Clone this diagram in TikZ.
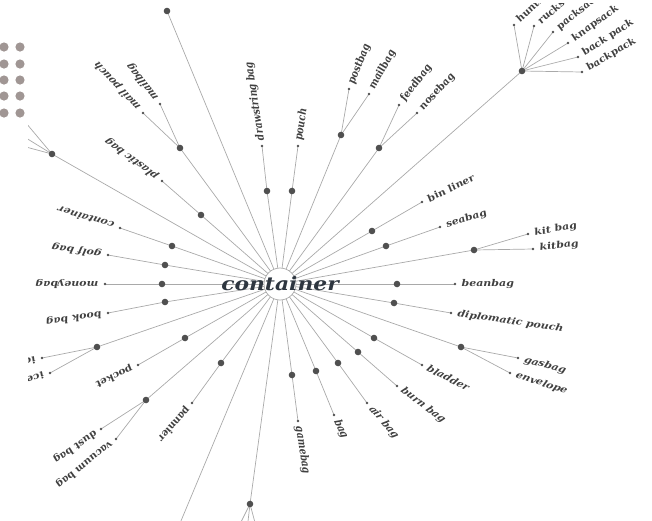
\documentclass[tikz,border=0pt]{standalone}
\usepackage{fontspec}
\usetikzlibrary{calc}
\newfontfamily\lblfont{DejaVu Serif}
\definecolor{edgec}{HTML}{A9A9A9}
\definecolor{dotc}{HTML}{505050}
\definecolor{labc}{HTML}{404040}
\definecolor{ctrc}{HTML}{2E3640}
\definecolor{gridc}{RGB}{160,150,148}
\tikzset{
  edge/.style={draw=edgec, line width=0.7pt},
  lbl/.style={anchor=west, inner xsep=5.5pt, inner ysep=0pt,
    font=\lblfont\bfseries\itshape\fontsize{9.3}{10}\selectfont, text=labc},
  ctr/.style={font=\lblfont\bfseries\itshape\fontsize{18.5}{20}\selectfont, text=ctrc, inner sep=0pt, xscale=1.18},
  hub/.style={circle, draw=edgec, fill=white, line width=0.7pt, minimum size=32pt, inner sep=0pt},
}
\newcommand\lbl[2]{%
  \path (#1); \pgfgetlastxy{\lx}{\ly}%
  \pgfmathsetmacro\ang{atan2(\ly+284,\lx-280)}%
  \pgfmathsetmacro\ma{1.18*cos(\ang)}%
  \pgfmathsetmacro\mb{sin(\ang)}%
  \pgfmathsetmacro\mc{-1.18*sin(\ang)}%
  \pgfmathsetmacro\md{cos(\ang)}%
  \node[lbl, cm={\ma,\mb,\mc,\md,(0,0)}] (t#1) at (#1) {#2};}
\begin{document}
\begin{tikzpicture}[x=1pt,y=-1pt]
\useasboundingbox (0,0) rectangle (652,520);
\begin{scope}
\clip (28,3) rectangle (652,520);
\coordinate (c) at (280,284);
% internal nodes
\coordinate (nA) at (167,11);
\coordinate (nB) at (180,148);
\coordinate (nC) at (201,215);
\coordinate (nD) at (172,246);
\coordinate (nE) at (165,265);
\coordinate (nF) at (162,284);
\coordinate (nG) at (165,302);
\coordinate (nH) at (97,347);
\coordinate (nI) at (185,338);
\coordinate (nJ) at (146,400);
\coordinate (nK) at (221,363);
\coordinate (nM) at (250,504);
\coordinate (nN) at (292,375);
\coordinate (nO) at (316,371);
\coordinate (nP) at (338,363);
\coordinate (nQ) at (358,352);
\coordinate (nR) at (374,338);
\coordinate (nS) at (461,347);
\coordinate (nT) at (394,303);
\coordinate (nU) at (397,284);
\coordinate (nV) at (474,250);
\coordinate (nW) at (386,246);
\coordinate (nX) at (372,231);
\coordinate (nY) at (522,71);
\coordinate (nZ) at (379,148);
\coordinate (nAA) at (341,135);
\coordinate (nAB) at (292,191);
\coordinate (nAC) at (267,191);
\coordinate (nAD) at (52,154);
% free ends leaving the canvas
\coordinate (oL) at (173,540);
\coordinate (o1) at (237,530);
\coordinate (o2) at (247,530);
\coordinate (o3) at (257,530);
\coordinate (o4) at (0,92);
\coordinate (o5) at (0,122);
\coordinate (o6) at (0,140);
% leaves
\coordinate (lA) at (143,113);
\coordinate (lB) at (160,104);
\coordinate (lC) at (162,181);
\coordinate (lD) at (120,228);
\coordinate (lE) at (108,255);
\coordinate (lF) at (105,284);
\coordinate (lG) at (108,313);
\coordinate (lH) at (42,358);
\coordinate (lI) at (50,373);
\coordinate (lJ) at (138,365);
\coordinate (lK) at (101,429);
\coordinate (lL) at (116,439);
\coordinate (lM) at (192,403);
\coordinate (lN) at (298,421);
\coordinate (lO) at (334,415);
\coordinate (lP) at (367,403);
\coordinate (lQ) at (397,386);
\coordinate (lR) at (422,365);
\coordinate (lS) at (518,358);
\coordinate (lT) at (510,373);
\coordinate (lU) at (451,313);
\coordinate (lV) at (455,284);
\coordinate (lW) at (528,234);
\coordinate (lX) at (533,249);
\coordinate (lY) at (440,227);
\coordinate (lZ) at (422,202);
\coordinate (la) at (514,25);
\coordinate (lb) at (534,26);
\coordinate (lc) at (553,32);
\coordinate (ld) at (568,43);
\coordinate (le) at (578,57);
\coordinate (lf) at (582,72);
\coordinate (lg) at (399,105);
\coordinate (lh) at (417,113);
\coordinate (li) at (349,89);
\coordinate (lj) at (369,94);
\coordinate (lk) at (298,146);
\coordinate (ll) at (262,146);
% edges
\foreach \n in {nA,nB,nC,nD,nE,nF,nG,nH,nI,nJ,nK,oL,nM,nN,nO,nP,nQ,nR,nS,nT,nU,nV,nW,nX,nY,nZ,nAA,nAB,nAC,nAD}
  \draw[edge] (c) -- (\n);
\foreach \a/\b in {nB/lA,nB/lB,nC/lC,nD/lD,nE/lE,nF/lF,nG/lG,nH/lH,nH/lI,nI/lJ,nJ/lK,nJ/lL,nK/lM,
  nM/o1,nM/o2,nM/o3,nN/lN,nO/lO,nP/lP,nQ/lQ,nR/lR,nS/lS,nS/lT,nT/lU,nU/lV,nV/lW,nV/lX,nW/lY,nX/lZ,
  nY/la,nY/lb,nY/lc,nY/ld,nY/le,nY/lf,nZ/lg,nZ/lh,nAA/li,nAA/lj,nAB/lk,nAC/ll,nAD/o4,nAD/o5,nAD/o6}
  \draw[edge] (\a) -- (\b);
% dots
\foreach \n in {nA,nB,nC,nD,nE,nF,nG,nH,nI,nJ,nK,nM,nN,nO,nP,nQ,nR,nS,nT,nU,nV,nW,nX,nY,nZ,nAA,nAB,nAC,nAD}
  \fill[dotc] (\n) circle (3.3);
\foreach \n in {lA,lB,lC,lD,lE,lF,lG,lH,lI,lJ,lK,lL,lM,lN,lO,lP,lQ,lR,lS,lT,lU,lV,lW,lX,lY,lZ,la,lb,lc,ld,le,lf,lg,lh,li,lj,lk,ll}
  \fill[dotc] (\n) circle (1.3);
% hub
\node[hub] (hub) at (c) {};
\node[ctr] (ctext) at (c) {container};
% labels
\lbl{lA}{mail pouch}
\lbl{lB}{mailbag}
\lbl{lC}{plastic bag}
\lbl{lD}{container}
\lbl{lE}{golf bag}
\lbl{lF}{moneybag}
\lbl{lG}{book bag}
\lbl{lH}{ice chest}
\lbl{lI}{ice chest}
\lbl{lJ}{pocket}
\lbl{lK}{dust bag}
\lbl{lL}{vacuum bag}
\lbl{lM}{pannier}
\lbl{lN}{gamebag}
\lbl{lO}{bag}
\lbl{lP}{air bag}
\lbl{lQ}{burn bag}
\lbl{lR}{bladder}
\lbl{lS}{gasbag}
\lbl{lT}{envelope}
\lbl{lU}{diplomatic pouch}
\lbl{lV}{beanbag}
\lbl{lW}{kit bag}
\lbl{lX}{kitbag}
\lbl{lY}{seabag}
\lbl{lZ}{bin liner}
\lbl{la}{hunting bag}
\lbl{lb}{rucksack}
\lbl{lc}{packsack}
\lbl{ld}{knapsack}
\lbl{le}{back pack}
\lbl{lf}{backpack}
\lbl{lg}{feedbag}
\lbl{lh}{nosebag}
\lbl{li}{postbag}
\lbl{lj}{mailbag}
\lbl{lk}{pouch}
\lbl{ll}{drawstring bag}
\end{scope}
% dot grid at left edge
\foreach \gx in {4,20}
  \foreach \gy in {47,64,80,96,113}
    \fill[gridc] (\gx,\gy) circle (4.6);
\end{tikzpicture}
\end{document}
